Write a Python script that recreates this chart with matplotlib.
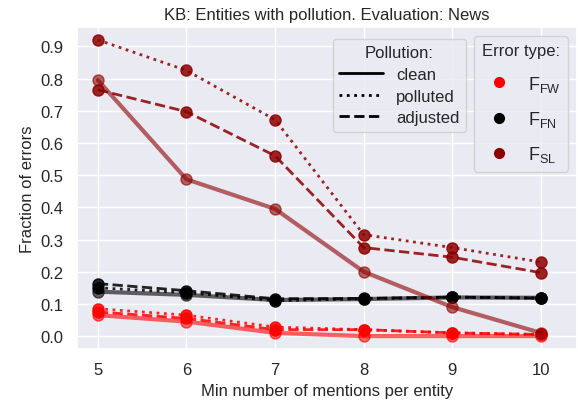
import matplotlib
matplotlib.use('Agg')
import matplotlib.pyplot as plt
import seaborn as sns
from matplotlib.lines import Line2D

#%% dados
min_mentions = [5, 6, 7, 8, 9, 10]

fw_clean = [0.065, 0.045, 0.010, 0.000, 0.000, 0.000]
fw_polluted = [0.085, 0.065, 0.028, 0.020, 0.010, 0.005]
fw_adjusted = [0.075, 0.055, 0.020, 0.020, 0.010, 0.005]

fn_clean = [0.138, 0.128, 0.112, 0.115, 0.120, 0.119]
fn_polluted = [0.150, 0.135, 0.110, 0.116, 0.121, 0.118]
fn_adjusted = [0.163, 0.141, 0.116, 0.117, 0.121, 0.118]

sl_clean = [0.795, 0.487, 0.395, 0.200, 0.090, 0.010]
sl_polluted = [0.920, 0.825, 0.672, 0.315, 0.275, 0.230]
sl_adjusted = [0.765, 0.697, 0.560, 0.275, 0.245, 0.197]

error_types = [r'F$_{\mathrm{FW}}$', r'F$_{\mathrm{FN}}$', r'F$_{\mathrm{SL}}$']
colors = ['red', 'black', 'darkred']
pollution = ['clean', 'polluted', 'adjusted']

#%% figura
sns.set_theme(style='darkgrid')
plt.rcParams['font.family'] = ['Liberation Sans', 'DejaVu Sans']
plt.rcParams['mathtext.fontset'] = 'custom'
plt.rcParams['mathtext.rm'] = 'Liberation Sans'
fig, ax = plt.subplots(1, 1, figsize=(5.78, 4.06), dpi=100)
fig.subplots_adjust(left=0.133, right=0.998, top=0.931, bottom=0.138)

series = [
    (fw_clean, fw_polluted, fw_adjusted),
    (fn_clean, fn_polluted, fn_adjusted),
    (sl_clean, sl_polluted, sl_adjusted),
]
for (clean, polluted, adjusted), c in zip(series, colors):
    ax.plot(min_mentions, clean, '-o', color=c, lw=3, ms=8, alpha=0.6)
    ax.plot(min_mentions, polluted, ':o', color=c, lw=2, ms=8, alpha=0.85)
    ax.plot(min_mentions, adjusted, '--o', color=c, lw=2, ms=8, alpha=0.85)

ax.set_xlim(4.763, 10.406)
ax.set_ylim(-0.04, 0.96)
ax.set_yticks([0.0, 0.1, 0.2, 0.3, 0.4, 0.5, 0.6, 0.7, 0.8, 0.9])
ax.tick_params(labelsize=12)
ax.set_xlabel('Min number of mentions per entity', fontsize=12)
ax.set_ylabel('Fraction of errors', fontsize=12)
ax.set_title('KB: Entities with pollution. Evaluation: News', fontsize=12)

# legenda de tipos de erro
h_err = [Line2D([], [], ls='', marker='o', color=c, ms=7) for c in colors]
leg1 = ax.legend(h_err, error_types, title='Error type:', loc='upper right',
                 fontsize=13, title_fontsize=12, labelspacing=0.85,
                 handletextpad=0.6)
ax.add_artist(leg1)

# legenda de poluição
h_pol = [Line2D([], [], color='black', ls=s, lw=2) for s in ['-', ':', '--']]
ax.legend(h_pol, pollution, title='Pollution:', loc='upper right',
          bbox_to_anchor=(0.795, 0.99), fontsize=12, title_fontsize=12,
          handlelength=2.6, labelspacing=0.4)

fig.savefig('out.png', dpi=100)
